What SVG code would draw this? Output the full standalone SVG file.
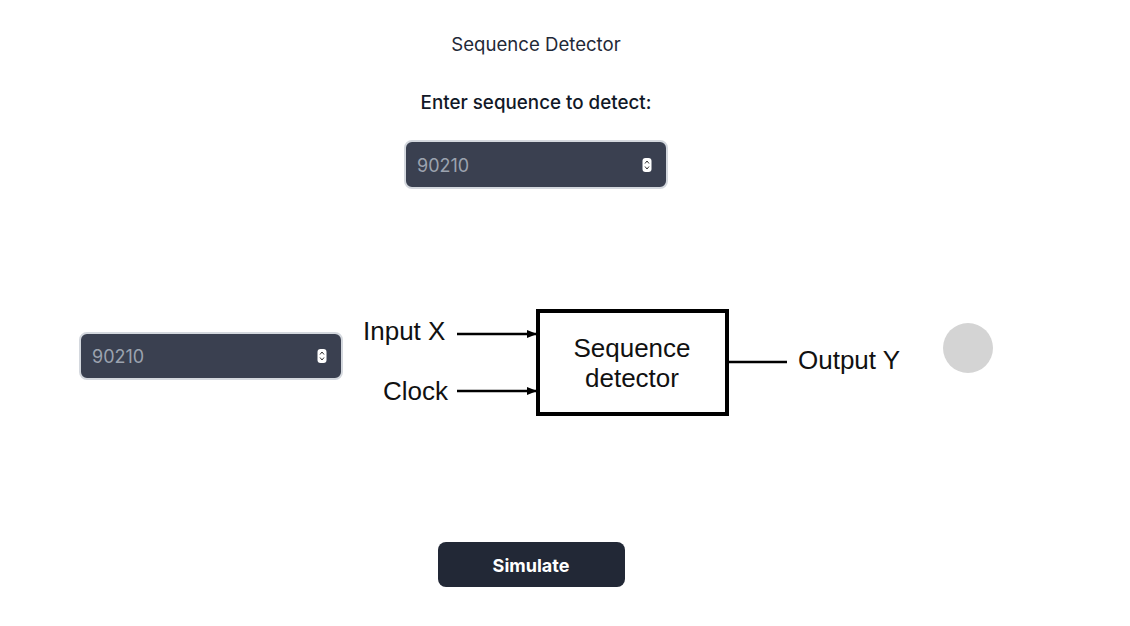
<svg xmlns="http://www.w3.org/2000/svg" width="1130" height="626" viewBox="0 0 1130 626">
<style>
.ui{font-family:Inter,"Noto Sans",sans-serif}
.inp{fill:#3a4050;stroke:#d4d8de;stroke-width:2}
.val{font-family:Inter,"Noto Sans",sans-serif;font-size:18px;fill:#9ca3af}
.lbl{font-family:"Liberation Sans",Arial,sans-serif;font-size:26px;fill:#111}
.wire{stroke:#000;stroke-width:2.5;fill:none}
</style>
<defs>
<marker id="arr" markerWidth="10" markerHeight="8" refX="9" refY="4" orient="auto" markerUnits="userSpaceOnUse">
<path d="M0,0 L10,4 L0,8 Z" fill="#000"/>
</marker>
<g id="spin">
<rect x="-4.5" y="-7" width="9" height="14" rx="3" fill="#fff"/>
<path d="M-2,-1.5 L0,-4 L2,-1.5 M-2,1.5 L0,4 L2,1.5" stroke="#333" stroke-width="1" fill="none"/>
</g>
</defs>
<rect width="1130" height="626" fill="#fff"/>
<g id="title"><text class="ui" x="536" y="51" text-anchor="middle" font-size="18.6" fill="#1f2937">Sequence Detector</text></g>
<g id="prompt"><text class="ui" x="536" y="109" text-anchor="middle" font-size="18.8" font-weight="500" fill="#111827">Enter sequence to detect:</text></g>
<g id="input-top">
<rect class="inp" x="405" y="141" width="262" height="47" rx="7"/>
<text class="val" x="417" y="172">90210</text>
<use href="#spin" x="647" y="165"/>
</g>
<g id="input-left">
<rect class="inp" x="80" y="333" width="262" height="46" rx="7"/>
<text class="val" x="92" y="363">90210</text>
<use href="#spin" x="322" y="356"/>
</g>
<g id="detector">
<rect x="538" y="311" width="189" height="103" fill="#fff" stroke="#000" stroke-width="4"/>
<text class="lbl" x="632" y="357" text-anchor="middle">Sequence</text>
<text class="lbl" x="632" y="387" text-anchor="middle">detector</text>
</g>
<g id="input-x"><text class="lbl" x="363" y="340">Input X</text></g>
<g id="clock"><text class="lbl" x="383" y="400">Clock</text></g>
<g id="output-y"><text class="lbl" x="798" y="369">Output Y</text></g>
<g id="connectors">
<line class="wire" x1="457" y1="334" x2="536" y2="334" marker-end="url(#arr)"/>
<line class="wire" x1="457" y1="391" x2="536" y2="391" marker-end="url(#arr)"/>
<line class="wire" x1="727" y1="362" x2="787" y2="362"/>
</g>
<g id="indicator"><circle cx="968" cy="348" r="25" fill="#d4d4d4"/></g>
<g id="simulate">
<rect x="438" y="542" width="187" height="45" rx="8" fill="#222836"/>
<text class="ui" x="531" y="572" text-anchor="middle" font-size="18" font-weight="700" fill="#fff">Simulate</text>
</g>
</svg>
